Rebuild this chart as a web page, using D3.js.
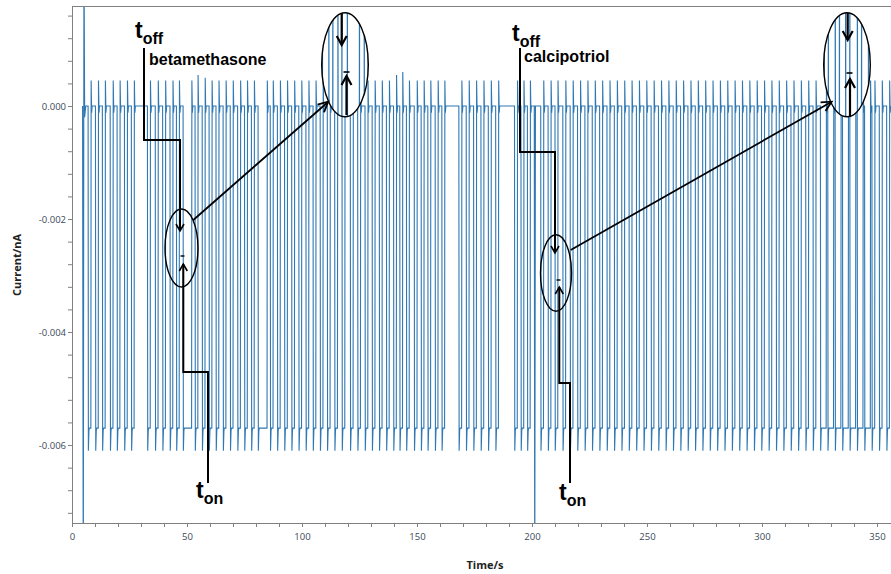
<!DOCTYPE html>
<html>
<head>
<meta charset="utf-8">
<script src="https://cdn.jsdelivr.net/npm/d3@7/dist/d3.min.js"></script>
<style>
  html, body { margin: 0; padding: 0; background: #fff; }
  svg { display: block; }
</style>
</head>
<body>
<svg id="chart" width="891" height="574"></svg>
<script>
// ---- data -------------------------------------------------------------
const timeTicks = [0, 50, 100, 150, 200, 250, 300, 350];
const currentTicks = [0, -0.002, -0.004, -0.006];

// Times (s) at which the current drops to the low level ...
const pulseDown = [
  7.0, 10.2, 13.2, 16.6, 19.6, 22.8, 25.8,
  32.8, 36.2, 39.4, 42.6, 45.4, 48.3, 53.5, 56.6, 59.6, 62.6, 65.7, 68.8, 72.0, 75.0, 78.0, 80.9,
  86.2, 89.3, 92.4, 95.5, 98.6, 101.7, 104.8, 107.9, 111.0, 114.2, 117.4, 121.0, 124.2, 127.4,
  130.5, 133.6, 136.7, 139.8, 142.5, 145.4, 148.8, 151.8, 154.7, 157.9, 160.8,
  168.2, 171.4, 174.6, 177.8, 181.0, 184.2,
  192.4, 195.2, 198.0, 203.8, 207.0, 210.0, 213.4, 216.6, 219.8, 223.0, 226.2, 229.4,
  232.6, 235.8, 239.0, 242.2, 245.4, 248.6, 251.8, 255.0, 258.2, 261.4, 264.6, 267.8,
  271.0, 274.2, 277.4, 280.6, 283.8, 287.0, 290.2, 293.4, 296.6, 299.8, 303.0, 306.2,
  309.4, 312.6, 315.8, 319.0, 322.2, 325.4, 328.6, 331.8, 335.0, 338.2, 341.4, 344.6,
  347.8, 351.0, 354.2
];
// ... and the times (s) at which it returns to the baseline
const pulseUp = [
  8.2, 11.4, 14.4, 17.8, 20.8, 24.0, 27.0,
  34.0, 37.4, 40.6, 43.8, 46.6, 52.0, 54.7, 57.8, 60.8, 63.8, 66.9, 70.0, 73.2, 76.2, 79.2, 84.8,
  87.4, 90.5, 93.6, 96.7, 99.8, 102.9, 106.0, 109.1, 112.2, 115.4, 118.6, 122.2, 125.4, 128.6,
  131.7, 134.8, 137.9, 141.0, 143.7, 146.6, 150.0, 153.0, 155.9, 159.1, 162.0,
  169.4, 172.6, 175.8, 179.0, 182.2, 185.4,
  193.6, 196.4, 199.2, 205.0, 208.2, 211.2, 214.6, 217.8, 221.0, 224.2, 227.4, 230.6,
  233.8, 237.0, 240.2, 243.4, 246.6, 249.8, 253.0, 256.2, 259.4, 262.6, 265.8, 269.0,
  272.2, 275.4, 278.6, 281.8, 285.0, 288.2, 291.4, 294.6, 297.8, 301.0, 304.2, 307.4,
  310.6, 313.8, 317.0, 320.2, 323.4, 327.9, 331.1, 334.3, 337.5, 340.7, 343.9, 347.1,
  349.0, 352.2, 355.4
];

// Current levels (nA)
const baseLevel = 0;
const lowLevel = -0.0057;
const troughLevel = -0.0061;
const peakLevel = 0.00045;
const hookLevel = -0.00012;

// Returns whose overshoot rises above the usual peak
const tallPeakTimes = [54.7, 57.8, 141.0, 143.7];
const tallPeakLevels = [0.00055, 0.0005, 0.00055, 0.0006];

// Isolated artefact spikes: time (s) and extreme current (nA)
const spikeTimes = [5.2, 201.2];
const spikeHigh = [0.0030, 0.0000];
const spikeLow = [-0.0090, -0.0090];

// ---- layout -----------------------------------------------------------
const svg = d3.select("#chart");
const plotLeft = 72, plotRight = 891, plotTop = 6, plotBottom = 523;

const x = d3.scaleLinear().domain([0, 356.1]).range([plotLeft, plotRight]);
const y = d3.scaleLinear().domain([-0.00738, 0.00177]).range([plotBottom, plotTop]);

const blue = "#2f78b3";

// ---- build the trace --------------------------------------------------
const trace = [];
trace.push([4.6, baseLevel]);
// start-up artefact
trace.push([spikeTimes[0] - 0.3, spikeLow[0]]);
trace.push([spikeTimes[0], spikeHigh[0]]);
trace.push([spikeTimes[0] + 0.3, -0.0002]);
trace.push([spikeTimes[0] + 0.8, baseLevel]);
pulseDown.forEach((s, i) => {
  const e = pulseUp[i];
  if (spikeTimes[1] > s - 3.5 && spikeTimes[1] < s) {
    trace.push([spikeTimes[1] - 0.2, spikeHigh[1]]);
    trace.push([spikeTimes[1], spikeLow[1]]);
    trace.push([spikeTimes[1] + 0.3, baseLevel]);
  }
  const k = tallPeakTimes.indexOf(e);
  const peak = k >= 0 ? tallPeakLevels[k] : peakLevel;
  trace.push([s, baseLevel]);
  trace.push([s + 0.12, troughLevel]);
  trace.push([s + 0.35, lowLevel - 0.00005]);
  trace.push([s + 0.5, lowLevel]);
  trace.push([e, lowLevel]);
  trace.push([e + 0.12, peak]);
  trace.push([e + 0.35, hookLevel]);
  trace.push([e + 0.55, baseLevel]);
});

const line = d3.line().x(d => x(d[0])).y(d => y(d[1]));

const defs = svg.append("defs");
defs.append("clipPath").attr("id", "plotClip")
  .append("rect").attr("x", plotLeft).attr("y", plotTop)
  .attr("width", plotRight - plotLeft).attr("height", plotBottom - plotTop);

svg.append("path")
  .datum(trace)
  .attr("clip-path", "url(#plotClip)")
  .attr("fill", "none")
  .attr("stroke", blue)
  .attr("stroke-width", 1.1)
  .attr("d", line);

// ---- axes ---------------------------------------------------------------
const axisColor = "#808080";
const labelColor = "#3b4a5a";

const xMinor = d3.range(0, 357, 10);
const yMinor = d3.range(-18, 5).map(k => k * 0.0004);

const gx = svg.append("g").attr("transform", `translate(0,${plotBottom})`);
gx.call(d3.axisBottom(x).tickValues(xMinor).tickSize(4).tickFormat(""));
gx.selectAll(".tick").filter(d => timeTicks.includes(Math.round(d)))
  .append("text").attr("y", 17).attr("text-anchor", "middle")
  .attr("fill", labelColor).attr("font-size", 9.5)
  .attr("font-family", "'Open Sans', 'DejaVu Sans', sans-serif")
  .text(d => d3.format("d")(d));
gx.select(".domain").attr("d", `M${plotLeft},0.5H${plotRight}`);

const gy = svg.append("g").attr("transform", `translate(${plotLeft},0)`);
gy.call(d3.axisLeft(y).tickValues(yMinor).tickSize(4).tickFormat(""));
gy.selectAll(".tick").filter(d => currentTicks.some(v => Math.abs(v - d) < 1e-6))
  .append("text").attr("x", -6).attr("dy", "0.35em").attr("text-anchor", "end")
  .attr("fill", labelColor).attr("font-size", 9.5)
  .attr("font-family", "'Open Sans', 'DejaVu Sans', sans-serif")
  .text(d => d3.format(".3f")(Math.abs(d) < 1e-9 ? 0 : d).replace("\u2212", "-"));
gy.select(".domain").attr("d", `M0.5,${plotTop}V${plotBottom}`);

[gx, gy].forEach(g => {
  g.selectAll("line, path").attr("stroke", axisColor);
});

svg.append("line").attr("x1", plotLeft).attr("x2", plotRight)
  .attr("y1", plotTop + 0.5).attr("y2", plotTop + 0.5)
  .attr("stroke", axisColor);

svg.append("text").attr("x", 485).attr("y", 569).attr("text-anchor", "middle")
  .attr("font-family", "'Open Sans', 'DejaVu Sans', sans-serif").attr("font-weight", 700)
  .attr("font-size", 11).attr("fill", "#222").text("Time/s");
svg.append("text").attr("transform", "translate(21,265) rotate(-90)").attr("text-anchor", "middle")
  .attr("font-family", "'Open Sans', 'DejaVu Sans', sans-serif").attr("font-weight", 700)
  .attr("font-size", 11).attr("fill", "#222").text("Current/nA");

// ---- magnified insets ---------------------------------------------------
const insets = [
  { src: { cx: 181.5, cy: 248, rx: 16.5, ry: 39 }, dst: { cx: 345, cy: 64.7, rx: 23.3, ry: 52 } },
  { src: { cx: 556, cy: 273, rx: 15.5, ry: 38.3 }, dst: { cx: 847, cy: 64.7, rx: 23.3, ry: 52 } }
];

insets.forEach((ins, i) => {
  const d = ins.dst, s = ins.src;
  defs.append("clipPath").attr("id", "inset" + i)
    .append("ellipse").attr("cx", d.cx).attr("cy", d.cy).attr("rx", d.rx).attr("ry", d.ry);
  const g = svg.append("g");
  g.append("ellipse").attr("cx", d.cx).attr("cy", d.cy).attr("rx", d.rx).attr("ry", d.ry).attr("fill", "#fff");
  const kx = d.rx / s.rx, ky = d.ry / s.ry;
  g.append("g").attr("clip-path", `url(#inset${i})`)
    .append("path").datum(trace)
    .attr("transform", `translate(${d.cx},${d.cy}) scale(${kx},${ky}) translate(${-s.cx},${-s.cy})`)
    .attr("fill", "none").attr("stroke", blue).attr("stroke-width", 1.3)
    .attr("vector-effect", "non-scaling-stroke")
    .attr("d", line);
});

// ---- annotations ---------------------------------------------------------
const ann = svg.append("g").attr("fill", "none").attr("stroke", "#000");

function chevron(xt, yt, dir, w, h) {
  // open arrowhead with its tip at (xt, yt); dir = 1 pointing down, -1 pointing up
  return `M${xt - w},${yt - dir * h}L${xt},${yt}L${xt + w},${yt - dir * h}`;
}
function chevronTo(x0, y0, x1, y1, len, half) {
  const a = Math.atan2(y1 - y0, x1 - x0);
  const bx = x1 - len * Math.cos(a), by = y1 - len * Math.sin(a);
  const px = -Math.sin(a) * half, py = Math.cos(a) * half;
  return `M${bx + px},${by + py}L${x1},${y1}L${bx - px},${by - py}`;
}

// ellipses
[[181.5, 248, 16.5, 39], [556, 273, 15.5, 38.3], [345, 64.7, 23.3, 52], [847, 64.7, 23.3, 52]]
  .forEach(e => ann.append("ellipse").attr("cx", e[0]).attr("cy", e[1]).attr("rx", e[2]).attr("ry", e[3])
    .attr("stroke-width", 1.4));

// leader lines
const leaders = [
  "M144,48V140H180V231",
  "M208,483V372H183.3V264",
  "M520,48V152H555V253",
  "M570,483V383H559.3V287",
];
leaders.forEach(p => ann.append("path").attr("d", p).attr("stroke-width", 2));
ann.append("path").attr("d", chevron(180, 231, 1, 4, 7)).attr("stroke-width", 1.6);
ann.append("path").attr("d", chevron(183.3, 264, -1, 4, 7)).attr("stroke-width", 1.6);
ann.append("path").attr("d", chevron(555, 253, 1, 4, 7)).attr("stroke-width", 1.6);
ann.append("path").attr("d", chevron(559.3, 287, -1, 4, 7)).attr("stroke-width", 1.6);

// arrows inside the magnified insets
[[341.7, 13, 45, 346.5, 115, 76, 346.5, 72], [847.7, 13, 40, 850, 117, 79, 849.5, 73]]
  .forEach(a => {
    ann.append("path").attr("d", `M${a[0]},${a[1]}V${a[2]}`).attr("stroke-width", 2.2);
    ann.append("path").attr("d", chevron(a[0], a[2], 1, 5, 9)).attr("stroke-width", 2.2);
    ann.append("path").attr("d", `M${a[3]},${a[4]}V${a[5]}`).attr("stroke-width", 2.2);
    ann.append("path").attr("d", chevron(a[3], a[5], -1, 5, 9)).attr("stroke-width", 2.2);
    ann.append("path").attr("d", `M${a[6] - 3},${a[7]}H${a[6] + 3}`).attr("stroke-width", 1.6);
  });
// small dashes inside the small ellipses
ann.append("path").attr("d", "M180.5,256H184.5").attr("stroke-width", 1.4);
ann.append("path").attr("d", "M556.5,280H560.5").attr("stroke-width", 1.4);

// connecting arrows
[[193.3, 220, 328.3, 101.7], [570.7, 250, 831.7, 101.7]].forEach(c => {
  ann.append("path").attr("d", `M${c[0]},${c[1]}L${c[2]},${c[3]}`).attr("stroke-width", 1.8);
  ann.append("path").attr("d", chevronTo(c[0], c[1], c[2], c[3], 10, 5)).attr("stroke-width", 1.8);
});

// labels
const font = "'Liberation Sans', Arial, sans-serif";
function tLabel(xp, yp, sub) {
  const t = svg.append("text").attr("x", xp).attr("y", yp).attr("font-family", font)
    .attr("font-weight", 700).attr("fill", "#000");
  t.append("tspan").attr("font-size", 23).text("t");
  t.append("tspan").attr("font-size", 16).attr("dy", 6).text(sub);
}
tLabel(135, 38, "off");
tLabel(196, 498, "on");
tLabel(512, 41, "off");
tLabel(559, 500, "on");

svg.append("text").attr("x", 149).attr("y", 65).attr("font-family", font).attr("font-weight", 700)
  .attr("font-size", 16).attr("fill", "#000").text("betamethasone");
svg.append("text").attr("x", 524).attr("y", 62).attr("font-family", font).attr("font-weight", 700)
  .attr("font-size", 16).attr("fill", "#000").text("calcipotriol");
</script>
</body>
</html>
